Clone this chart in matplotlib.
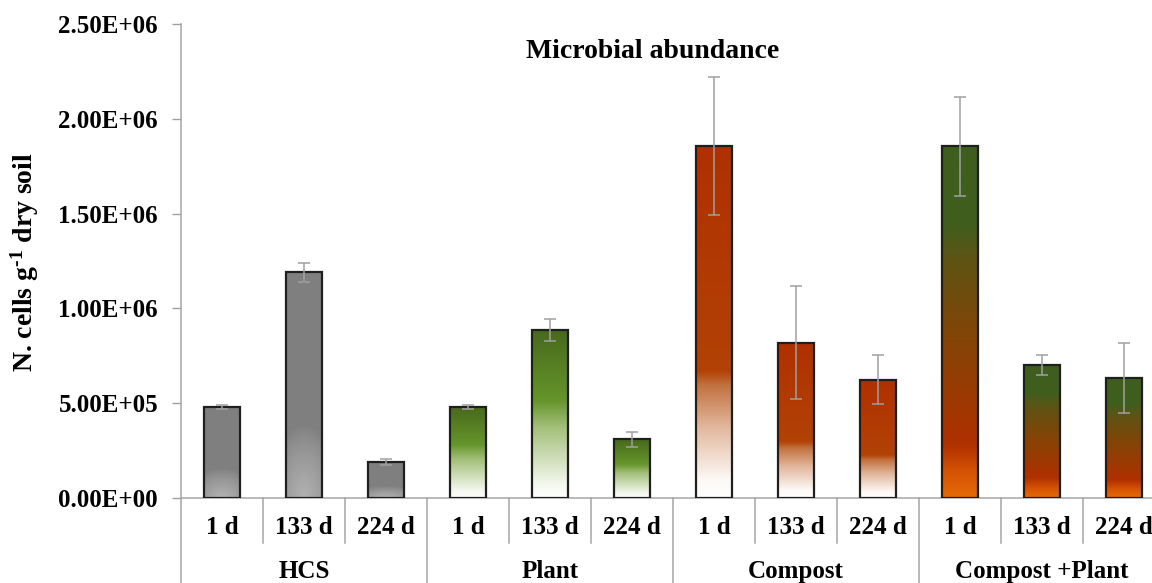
import numpy as np
import matplotlib
matplotlib.use('Agg')
import matplotlib.pyplot as plt
from matplotlib.colors import to_rgb
from matplotlib.patches import Rectangle
from matplotlib.ticker import FuncFormatter

# data
groups = ['HCS', 'Plant', 'Compost', 'Compost +Plant']
days = ['1 d', '133 d', '224 d']
hcs = [4.8e5, 1.19e6, 1.9e5]
plant = [4.8e5, 8.86e5, 3.1e5]
compost = [1.855e6, 8.2e5, 6.25e5]
compost_plant = [1.855e6, 7.03e5, 6.34e5]
hcs_err = [1.2e4, 5.0e4, 1.8e4]
plant_err = [1.0e4, 6.0e4, 4.0e4]
compost_err = [3.65e5, 3.0e5, 1.3e5]
compost_plant_err = [2.6e5, 5.3e4, 1.85e5]

# gradient stops per group: (fraction of bar height from bottom, colour)
grad_stops = {
    'Plant': [(0.0, '#ffffff'), (0.08, '#f4f8ee'), (0.42, '#a3c07a'), (0.58, '#66952b'), (1.0, '#47691c')],
    'Compost': [(0.0, '#ffffff'), (0.05, '#fdf9f6'), (0.2, '#e2b79d'), (0.32, '#c2713e'),
                (0.36, '#b24206'), (1.0, '#b03000')],
    'Compost +Plant': [(0.0, '#e46a06'), (0.07, '#d65404'), (0.15, '#b03000'), (0.45, '#844406'),
                       (0.68, '#5e5414'), (0.78, '#3f5e1e'), (1.0, '#3e5e1e')],
}

FONT = 'Liberation Serif'
plt.rcParams['mathtext.fontset'] = 'custom'
plt.rcParams['mathtext.rm'] = 'Liberation Serif:bold'
plt.rcParams['mathtext.bf'] = 'Liberation Serif:bold'
plt.rcParams['mathtext.it'] = 'Liberation Serif:bold'


def gradient_image(group, n=200):
    t = np.linspace(0, 1, n)
    if group == 'HCS':
        # grey with a lighter glow at the bottom centre
        xx, yy = np.meshgrid(np.linspace(-1, 1, 60), t)
        d = np.sqrt((xx * 0.5) ** 2 + (yy / 0.32) ** 2)
        k = np.clip(1 - d, 0, 1) ** 0.8
        g = 0.50 + (0.70 - 0.50) * k
        return np.dstack([g, g, g])
    stops = grad_stops[group]
    pos = [s[0] for s in stops]
    cols = np.array([to_rgb(s[1]) for s in stops])
    rgb = np.stack([np.interp(t, pos, cols[:, i]) for i in range(3)], axis=1)
    return rgb[:, None, :].repeat(2, axis=1)


fig = plt.figure(figsize=(11.52, 5.83), dpi=100)
ax = fig.add_axes([181 / 1152, 85 / 583, 984 / 1152, 474 / 583])

all_vals = [hcs, plant, compost, compost_plant]
all_errs = [hcs_err, plant_err, compost_err, compost_plant_err]
width = 0.43
x = 0
for gi, group in enumerate(groups):
    for di in range(len(days)):
        v = all_vals[gi][di]
        img = gradient_image(group)
        im = ax.imshow(img, extent=[x - width / 2, x + width / 2, 0, v], origin='lower',
                       aspect='auto', interpolation='bilinear', zorder=2)
        rect = Rectangle((x - width / 2, 0), width, v, facecolor='none',
                         edgecolor='#1f1f1f', linewidth=1.6, zorder=3)
        ax.add_patch(rect)
        im.set_clip_path(rect)
        ax.errorbar(x, v, yerr=all_errs[gi][di], fmt='none', ecolor='#a0a0a0',
                    elinewidth=1.1, capsize=4, capthick=1.1, zorder=4)
        x += 1

n_cat = len(groups) * len(days)
ax.set_xlim(-0.5, n_cat - 0.5)
ax.set_ylim(0, 2.5e6)
ax.set_yticks(np.arange(0, 2.51e6, 5e5))
ax.yaxis.set_major_formatter(FuncFormatter(lambda v, p: '%.2E' % v))
ax.set_xticks([])
for lab in ax.get_yticklabels():
    lab.set_fontfamily(FONT)
    lab.set_fontweight('bold')
    lab.set_fontsize(18)
ax.tick_params(axis='y', length=6.5, width=1, color='#a0a0a0', pad=10)
for s in ['top', 'right']:
    ax.spines[s].set_visible(False)
for s in ['left', 'bottom']:
    ax.spines[s].set_color('#a6a6a6')
    ax.spines[s].set_linewidth(1.1)

# category axis: labels and separators below the plot
trans = ax.get_xaxis_transform()
for i in range(n_cat):
    ax.text(i, -0.063, days[i % len(days)], transform=trans, ha='center', va='center',
            fontfamily=FONT, fontweight='bold', fontsize=18)
for gi, group in enumerate(groups):
    ax.text(gi * 3 + 1, -0.155, group, transform=trans, ha='center', va='center',
            fontfamily=FONT, fontweight='bold', fontsize=18)
for i in range(n_cat + 1):
    bottom = -0.18 if i % 3 == 0 else -0.095
    ax.plot([i - 0.5, i - 0.5], [0, bottom], transform=trans, color='#a6a6a6',
            linewidth=1.1, clip_on=False)

fig.text(653 / 1152, 1 - 52 / 583, 'Microbial abundance', ha='center', va='center',
         fontfamily=FONT, fontweight='bold', fontsize=20)
fig.text(25 / 1152, 1 - 262 / 583, 'N. cells g$^{\u2010\\mathrm{1}}$ dry soil', rotation=90,
         ha='center', va='center', fontfamily=FONT, fontweight='bold', fontsize=20)

fig.savefig('out.png', dpi=100)
